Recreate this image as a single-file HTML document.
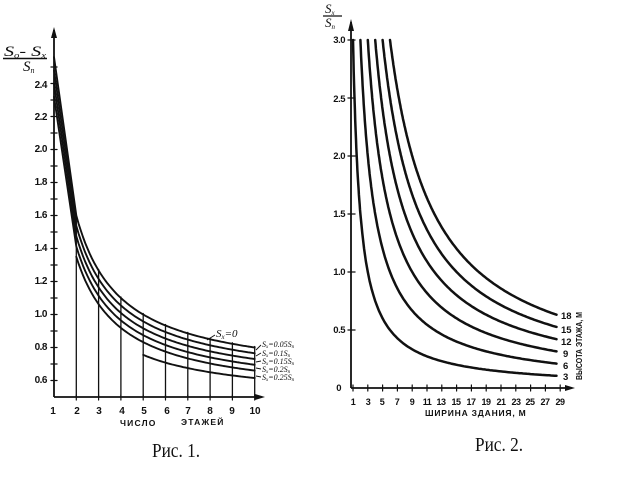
<!DOCTYPE html>
<html>
<head>
<meta charset="utf-8">
<style>
html,body{margin:0;padding:0;background:#fff;}
svg{display:block;}
.t{font-family:"Liberation Sans","DejaVu Sans",sans-serif;font-weight:bold;fill:#111;}
.s{font-family:"Liberation Serif","DejaVu Serif",serif;font-style:italic;fill:#111;}
.c{font-family:"Liberation Serif","DejaVu Serif",serif;fill:#111;}
</style>
</head>
<body>
<svg id="sv" width="628" height="481" viewBox="0 0 628 481" xmlns="http://www.w3.org/2000/svg">
<rect width="628" height="481" fill="#fff"/>
<g id="left" stroke="#111" fill="none" stroke-linecap="round" stroke-linejoin="round"></g>
<g id="right" stroke="#111" fill="none" stroke-linecap="round" stroke-linejoin="round"></g>

<!-- Left axes -->
<line x1="54" y1="397" x2="54" y2="30" stroke="#111" stroke-width="1.8"/>
<polygon points="51,38 54,27 57,38" fill="#111"/>
<line x1="54" y1="397" x2="262" y2="397" stroke="#111" stroke-width="1.8"/>
<polygon points="255,394 265,397 255,400" fill="#111"/>

<!-- Left y labels -->
<g class="t" font-size="10" text-anchor="end" letter-spacing="-0.5">
<text x="47" y="88">2.4</text>
<text x="47" y="120">2.2</text>
<text x="47" y="152">2.0</text>
<text x="47" y="185">1.8</text>
<text x="47" y="218">1.6</text>
<text x="47" y="251">1.4</text>
<text x="47" y="284">1.2</text>
<text x="47" y="317">1.0</text>
<text x="47" y="350">0.8</text>
<text x="47" y="383">0.6</text>
</g>
<!-- Left x labels -->
<g class="t" font-size="10" text-anchor="middle">
<text x="53" y="414">1</text>
<text x="77" y="414">2</text>
<text x="99" y="414">3</text>
<text x="122" y="414">4</text>
<text x="144" y="414">5</text>
<text x="167" y="414">6</text>
<text x="188" y="414">7</text>
<text x="210" y="414">8</text>
<text x="232" y="414">9</text>
<text x="255" y="414">10</text>
</g>
<text class="t" font-size="8.5" x="120" y="426" letter-spacing="1.2">ЧИСЛО</text>
<text class="t" font-size="8.5" x="181" y="425" letter-spacing="1.2">ЭТАЖЕЙ</text>

<!-- Left y-axis title -->
<text class="s" font-size="15" x="4" y="56" textLength="42" lengthAdjust="spacingAndGlyphs">S<tspan font-size="8" dy="2">o</tspan><tspan dy="-2">- S</tspan><tspan font-size="8" dy="2">x</tspan></text>
<line x1="3" y1="58.5" x2="47" y2="58.5" stroke="#111" stroke-width="1.4"/>
<text class="s" font-size="15" x="23" y="71">S<tspan font-size="8" dy="2">n</tspan></text>

<!-- Sx=0 label -->
<text class="s" font-size="11" x="216" y="337">S<tspan font-size="7" dy="2">x</tspan><tspan dy="-2">=0</tspan></text>
<line x1="215" y1="335" x2="207" y2="340" stroke="#111" stroke-width="1"/>

<!-- right side labels of left chart -->
<g class="s" font-size="8">
<text x="262" y="347">S<tspan font-size="5" dy="1">x</tspan><tspan dy="-1">=0.05S</tspan><tspan font-size="5" dy="1">n</tspan></text>
<text x="262" y="356">S<tspan font-size="5" dy="1">x</tspan><tspan dy="-1">=0.1S</tspan><tspan font-size="5" dy="1">n</tspan></text>
<text x="262" y="364">S<tspan font-size="5" dy="1">x</tspan><tspan dy="-1">=0.15S</tspan><tspan font-size="5" dy="1">n</tspan></text>
<text x="262" y="372">S<tspan font-size="5" dy="1">x</tspan><tspan dy="-1">=0.2S</tspan><tspan font-size="5" dy="1">n</tspan></text>
<text x="262" y="380">S<tspan font-size="5" dy="1">x</tspan><tspan dy="-1">=0.25S</tspan><tspan font-size="5" dy="1">n</tspan></text>
</g>
<g stroke="#111" stroke-width="0.9">
<line x1="256" y1="350" x2="261" y2="345"/>
<line x1="256" y1="356" x2="261" y2="353"/>
<line x1="256" y1="362" x2="261" y2="361"/>
<line x1="256" y1="368" x2="261" y2="369"/>
<line x1="256" y1="376" x2="261" y2="377"/>
</g>

<text class="c" font-size="20" x="152" y="457" textLength="48" lengthAdjust="spacingAndGlyphs">Рис. 1.</text>

<!-- Right axes -->
<line x1="351" y1="388" x2="351" y2="22" stroke="#111" stroke-width="1.8"/>
<polygon points="348,31 351,19 354,31" fill="#111"/>
<line x1="351" y1="388" x2="572" y2="388" stroke="#111" stroke-width="1.8"/>
<polygon points="565,385 575,388 565,391" fill="#111"/>

<g class="t" font-size="9.5" text-anchor="end" letter-spacing="-0.5">
<text x="345" y="43">3.0</text>
<text x="345" y="102">2.5</text>
<text x="345" y="159">2.0</text>
<text x="345" y="217">1.5</text>
<text x="345" y="275">1.0</text>
<text x="345" y="333">0.5</text>
<text x="341" y="391">0</text>
</g>
<g class="t" font-size="9" text-anchor="middle" letter-spacing="-0.5">
<text x="353" y="405">1</text>
<text x="368" y="405">3</text>
<text x="382" y="405">5</text>
<text x="397" y="405">7</text>
<text x="412" y="405">9</text>
<text x="427" y="405">11</text>
<text x="441" y="405">13</text>
<text x="456" y="405">15</text>
<text x="471" y="405">17</text>
<text x="486" y="405">19</text>
<text x="501" y="405">21</text>
<text x="516" y="405">23</text>
<text x="530" y="405">25</text>
<text x="545" y="405">27</text>
<text x="560" y="405">29</text>
</g>
<text class="t" font-size="8.5" x="425" y="416" letter-spacing="0.8">ШИРИНА ЗДАНИЯ, М</text>

<!-- right y title -->
<text class="s" font-size="13" x="325" y="13">S<tspan font-size="7" dy="2">x</tspan></text>
<line x1="323" y1="16" x2="342" y2="16" stroke="#111" stroke-width="1.3"/>
<text class="s" font-size="13" x="325" y="27">S<tspan font-size="7" dy="2">n</tspan></text>

<!-- curve labels -->
<g class="t" font-size="9.5">
<text x="561" y="319">18</text>
<text x="561" y="333">15</text>
<text x="561" y="345">12</text>
<text x="563" y="357">9</text>
<text x="563" y="369">6</text>
<text x="563" y="380">3</text>
</g>
<text class="t" font-size="8" transform="translate(582,380) rotate(-90)" textLength="68" lengthAdjust="spacingAndGlyphs">ВЫСОТА ЭТАЖА, М</text>

<text class="c" font-size="20" x="475" y="451" textLength="48" lengthAdjust="spacingAndGlyphs">Рис. 2.</text>
</svg>
<script>
(function(){
  var NS="http://www.w3.org/2000/svg";
  function add(g,d,w){var p=document.createElementNS(NS,"path");p.setAttribute("d",d);p.setAttribute("stroke-width",w);g.appendChild(p);}
  function ln(g,x1,y1,x2,y2,w){var l=document.createElementNS(NS,"line");l.setAttribute("x1",x1);l.setAttribute("y1",y1);l.setAttribute("x2",x2);l.setAttribute("y2",y2);l.setAttribute("stroke-width",w);g.appendChild(l);}
  var gl=document.getElementById("left"), gr=document.getElementById("right");
  var LX=function(n){return 54+(n-1)*22.3;}, LY=function(v){return 397-(v-0.5)*165;};
  // ticks left y
  for(var i=0;i<=20;i++){var v=0.5+i*0.1;var y=LY(v);if(v>0.55)ln(gl,51,y,57,y,1.3);}
  // x ticks left
  for(var n=2;n<=10;n++){ln(gl,LX(n),395,LX(n),400,1.2);}
  var curves=[[0.6,2,1,2.56],[0.572,1.931,1,2.48],[0.544,1.862,1,2.40],[0.516,1.794,1,2.32],[0.4875,1.725,2,null],[0.475,1.4,5,null]];
  curves.forEach(function(c){
    var a=c[0],b=c[1],n0=c[2],v1=c[3],d="";
    if(n0===1){d="M"+LX(1).toFixed(1)+","+LY(v1).toFixed(1)+" L"+LX(2).toFixed(1)+","+LY(a+b/2).toFixed(1);}
    else{d="M"+LX(n0).toFixed(1)+","+LY(a+b/n0).toFixed(1);}
    for(var n=Math.max(2,n0)+0.1;n<=10.001;n+=0.1){d+=" L"+LX(n).toFixed(1)+","+LY(a+b/n).toFixed(1);}
    add(gl,d,1.9);
  });
  // vertical lines
  for(var n=2;n<=10;n++){ln(gl,LX(n),397,LX(n),LY(0.6+2/n)-1,1.3);}
  // right chart
  var RX=function(w){return 353+(w-1)*7.4;}, RY=function(v){return 388-v*116;};
  for(var k=1;k<=6;k++){var y=RY(k*0.5);ln(gr,348,y,355,y,1.3);}
  for(var w=1;w<=29;w+=2){ln(gr,RX(w),385,RX(w),391,1.2);}
  [3,6,9,12,15,18].forEach(function(h){
    var w0=h/3,d="M"+RX(w0).toFixed(1)+","+RY(3).toFixed(1);
    for(var w=w0+0.05;w<=28.5;w+=(w<h/1.5?0.05:0.25)){d+=" L"+RX(w).toFixed(1)+","+RY(h/w).toFixed(1);}
    d+=" L"+RX(28.5).toFixed(1)+","+RY(h/28.5).toFixed(1);
    add(gr,d,2.5);
  });
})();
</script>
</body>
</html>
